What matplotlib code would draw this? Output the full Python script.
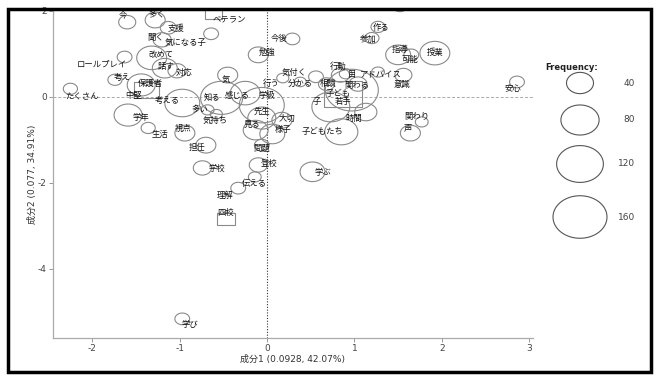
import matplotlib.pyplot as plt
import numpy as np
from matplotlib.path import Path
from matplotlib.patches import Rectangle

plt.rcParams['axes.unicode_minus'] = False

# correspondence analysis scores: words (circles)
words = ['今', '多く', '支援', '聞く', '気になる子', '改めて', 'ロールプレイ', '話す', '対応', '考え',
         '保護者', 'たくさん', '考える', '学年', '生活', '視点', '担任', '学校', '知る', '気',
         '感じる', '多い', '気持ち', '学級', '先生', '見る', '大切', '様子', '問題', '登校',
         '伝える', '理解', '学び', '学ぶ', '子どもたち', '時間', '子', '子ども', '相談', '関わる',
         '行動', '目', 'アドバイス', '気付く', '行う', '分かる', '今後', '勉強', '心', '作る',
         '参加', '指導', '可能', '授業', '意識', '安心', '関わり', '声']
x1 = [-1.60, -1.28, -1.13, -1.20, -0.64, -1.32, -1.63, -1.17, -1.03, -1.74,
      -1.44, -2.25, -0.97, -1.59, -1.36, -0.94, -0.70, -0.74, -0.52, -0.45,
      -0.25, -0.68, -0.58, -0.06, -0.06, -0.13, 0.17, 0.06, -0.06, -0.10,
      -0.14, -0.33, -0.97, 0.52, 0.85, 1.13, 0.73, 0.97, 0.68, 1.04,
      0.84, 0.90, 1.27, 0.56, 0.18, 0.38, 0.29, -0.10, 1.52, 1.27,
      1.20, 1.50, 1.65, 1.92, 1.56, 2.86, 1.77, 1.64]
y1 = [1.74, 1.79, 1.61, 1.33, 1.47, 0.91, 0.93, 0.67, 0.61, 0.40,
      0.28, 0.19, -0.14, -0.42, -0.72, -0.84, -1.12, -1.65, -0.02, 0.51,
      0.09, -0.30, -0.40, -0.19, -0.49, -0.77, -0.54, -0.86, -1.12, -1.58,
      -1.86, -2.12, -5.16, -1.74, -0.81, -0.35, -0.23, 0.16, 0.30, 0.30,
      0.51, 0.54, 0.58, 0.47, 0.44, 0.35, 1.35, 0.98, 2.12, 1.63,
      1.37, 0.98, 0.98, 1.02, 0.51, 0.35, -0.58, -0.84]
freq = [16, 22, 14, 18, 12, 49, 12, 34, 18, 11,
        43, 11, 67, 43, 11, 22, 22, 18, 97, 22,
        49, 9, 8, 111, 43, 34, 22, 34, 12, 18,
        9, 12, 12, 34, 60, 27, 79, 154, 14, 18,
        18, 9, 9, 12, 8, 8, 12, 22, 12, 11,
        11, 34, 12, 49, 16, 12, 9, 22]

# outer variables (squares)
groups = ['ベテラン', '中堅', '若手', '四校']
gx = [-0.61, -1.38, 0.87, -0.47]
gy = [1.95, 0.16, 0.07, -2.84]
gfreq = [16, 34, 79, 16]

legend_freq = [40, 80, 120, 160]

# label offsets in pixels (dx, dy downward)
word_off = [(-4, -7), (2, -5), (8, 1), (-7, -2), (-26, 9), (9, -3), (-23, 7), (1, -2), (7, 2), (7, -2),
            (9, -2), (12, 8), (-15, -3), (13, 2), (12, 7), (-2, -5), (-9, 2), (15, 1), (-10, -1), (-2, 4),
            (-8, 2), (-8, 0), (-1, 6), (5, -10), (0, -7), (-4, -6), (5, -2), (11, -4), (0, 3), (11, -1),
            (0, 7), (-13, 7), (8, 6), (10, 1), (-19, 0), (-12, 6), (-14, -5), (-14, 3), (2, -1), (-1, 1),
            (-2, -9), (6, 1), (3, 3), (-22, -4), (-12, 5), (0, 1), (-13, 0), (9, -3), (2, 9), (3, 1),
            (-4, 1), (2, -5), (-1, 5), (0, -1), (-1, 9), (-4, 7), (-5, -5), (-2, -5)]
group_off = [(16, 6), (-13, 5), (0, 8), (0, -7)]

jp = ['Noto Sans CJK JP']
mixed = ['DejaVu Sans', 'Noto Sans CJK JP']

t = np.linspace(0, 2 * np.pi, 73)
ellipse = Path(np.column_stack([1.27 * np.cos(t), np.sin(t)]), closed=True)
box = Path([(-1.5, -1), (1.5, -1), (1.5, 1), (-1.5, 1), (-1.5, -1)], closed=True)
scale = 9.45  # marker area per frequency unit

fig = plt.figure(figsize=(6.59, 3.76), dpi=100)
ax = fig.add_axes([53 / 659, 1 - 338 / 376, 480 / 659, 328 / 376])

ax.axhline(0, color='#aaaaaa', lw=0.7, ls=(0, (3, 2)), zorder=1)
ax.axvline(0, color='#333333', lw=0.8, ls=(0, (1, 1.5)), zorder=1)

ax.scatter(x1, y1, s=np.array(freq) * scale, marker=ellipse,
           facecolors='none', edgecolors='#8a8a8a', linewidths=0.8, zorder=2)
ax.scatter(gx, gy, s=np.array(gfreq) * scale, marker=box,
           facecolors='none', edgecolors='#8a8a8a', linewidths=0.8, zorder=2)

for w, x, y, (dx, dy) in zip(words, x1, y1, word_off):
    ax.annotate(w, (x, y), xytext=(dx, -dy), textcoords='offset pixels',
                ha='center', va='center', fontsize=6, family=jp, color='#111111', zorder=3)
for w, x, y, (dx, dy) in zip(groups, gx, gy, group_off):
    ax.annotate(w, (x, y), xytext=(dx, -dy), textcoords='offset pixels',
                ha='center', va='center', fontsize=6, family=jp, color='#111111', zorder=3)

ax.set_xlim(-2.449, 3.043)
ax.set_ylim(-5.605, 2.023)
ax.set_xticks([-2, -1, 0, 1, 2, 3])
ax.set_yticks([-4, -2, 0, 2])
for s in ['top', 'right']:
    ax.spines[s].set_visible(False)
for s in ['left', 'bottom']:
    ax.spines[s].set_color('#aaaaaa')
    ax.spines[s].set_linewidth(0.9)
ax.tick_params(length=3, width=0.7, color='#999999', labelsize=6.5,
               labelcolor='#444444', pad=1.5)
ax.set_xlabel('成分1 (0.0928, 42.07%)', fontsize=6.5, family=mixed, color='#333333', labelpad=1)
ax.set_ylabel('成分2 (0.077, 34.91%)', fontsize=6.5, family=mixed, color='#333333', labelpad=1)

# overlay in pixel coordinates: legend and frame
ov = fig.add_axes([0, 0, 1, 1], facecolor='none')
ov.set_xlim(0, 659)
ov.set_ylim(376, 0)
ov.axis('off')
ov.text(572, 67, 'Frequency:', fontsize=6, fontweight='bold', ha='center', va='center',
        color='#222222')
leg_y = [83, 120, 164, 217]
ov.scatter([580] * 4, leg_y, s=np.array(legend_freq) * scale, marker=ellipse,
           facecolors='none', edgecolors='#555555', linewidths=0.8)
for f, ly in zip(legend_freq, leg_y):
    ov.text(635, ly, str(f), fontsize=6.5, ha='right', va='center', color='#444444')
ov.add_patch(Rectangle((8, 9), 643, 363, fill=False, lw=2.5, edgecolor='black'))

fig.savefig('out.png', dpi=100)
